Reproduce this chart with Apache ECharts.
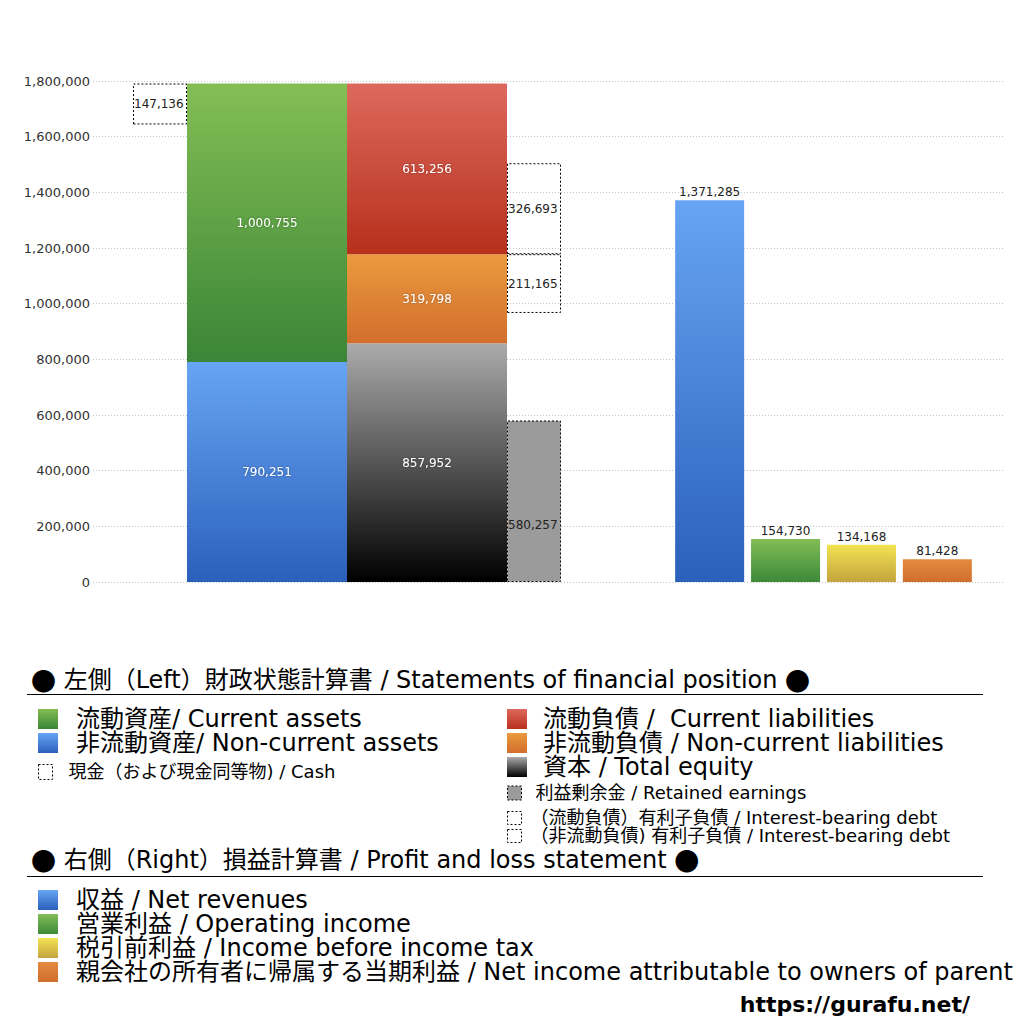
<!DOCTYPE html>
<html><head><meta charset="utf-8">
<script src="https://cdn.jsdelivr.net/npm/echarts@6/dist/echarts.min.js"></script>
<style>html,body{margin:0;padding:0;background:#fff}#c{width:1024px;height:1024px}</style>
</head><body><div id="c"></div>
<script>
// ---- data ----
const yMin = 0, yMax = 1800000, yInterval = 200000;
const assetNames = ['非流動資産/ Non-current assets', '流動資産/ Current assets'];
const assetValues = [790251, 1000755];
const cashNames = ['現金（および現金同等物) / Cash'];
const cashValues = [147136];
const liabNames = ['資本 / Total equity', '非流動負債 / Non-current liabilities', '流動負債 /  Current liabilities'];
const liabValues = [857952, 319798, 613256];
const debtNames = ['利益剰余金 / Retained earnings', '（非流動負債) 有利子負債 / Interest-bearing debt', '（流動負債）有利子負債 / Interest-bearing debt'];
const debtValues = [580257, 211165, 326693];
const plNames = ['収益 / Net revenues', '営業利益 / Operating income', '税引前利益 / Income before income tax', '親会社の所有者に帰属する当期利益 / Net income attributable to owners of parent'];
const plValues = [1371285, 154730, 134168, 81428];
const heading1 = ['左側（Left）財政状態計算書 / Statements of financial position'];
const heading2 = ['右側（Right）損益計算書 / Profit and loss statement'];
const siteUrl = 'https://gurafu.net/';

// ---- styles ----
const FONT = '"DejaVu Sans", "Noto Sans CJK JP", sans-serif';
const fmt = v => Number(v).toLocaleString('en-US');
const grad = (a, b) => ({type:'linear', x:0, y:0, x2:0, y2:1, colorStops:[{offset:0, color:a},{offset:1, color:b}]});
const cBlue = grad('#67a4f3', '#2b60bb');
const cGreen = grad('#84be55', '#3a8537');
const cRed = grad('#dd695d', '#b7301c');
const cOrange = grad('#ea9a3e', '#d26e2d');
const cBlack = grad('#ababab', '#000000');
const cGreen2 = grad('#82bd56', '#3c8939');
const cYellow = grad('#f3e352', '#c4a43e');
const cOrange2 = grad('#e48b3e', '#cf6e2e');
const dashBox = {color:'rgba(255,255,255,0)', borderColor:'#000', borderWidth:1, borderType:[2,2]};
const whiteLabel = {show:true, position:'inside', color:'#fff', fontSize:12, fontFamily:FONT, formatter:p=>fmt(p.value), textShadowColor:'rgba(0,0,0,0.35)', textShadowBlur:2};
const darkLeftLabel = {show:true, position:'insideLeft', distance:1, color:'#222', fontSize:12, fontFamily:FONT, formatter:p=>fmt(p.value)};

const assetsTotal = assetValues[0] + assetValues[1];
const cashOffset = assetsTotal - cashValues[0];
const debtGap = liabValues[0] + liabValues[1] - debtValues[1] - debtValues[0];

const L = {xAxisIndex:1, yAxisIndex:1, type:'bar', barGap:0};
const series = [
  Object.assign({}, L, {name:'_cashOffset', stack:'cash', barWidth:54, silent:true, itemStyle:{color:'rgba(0,0,0,0)'}, data:[cashOffset]}),
  Object.assign({}, L, {name:cashNames[0], stack:'cash', barWidth:54, itemStyle:dashBox, label:darkLeftLabel, data:[cashValues[0]]}),
  Object.assign({}, L, {name:assetNames[0], stack:'assets', barWidth:160, itemStyle:{color:cBlue}, label:whiteLabel, data:[assetValues[0]]}),
  Object.assign({}, L, {name:assetNames[1], stack:'assets', barWidth:160, itemStyle:{color:cGreen}, label:whiteLabel, data:[assetValues[1]]}),
  Object.assign({}, L, {name:liabNames[0], stack:'liab', barWidth:160, itemStyle:{color:cBlack}, label:whiteLabel, data:[liabValues[0]]}),
  Object.assign({}, L, {name:liabNames[1], stack:'liab', barWidth:160, itemStyle:{color:cOrange}, label:whiteLabel, data:[liabValues[1]]}),
  Object.assign({}, L, {name:liabNames[2], stack:'liab', barWidth:160, itemStyle:{color:cRed}, label:whiteLabel, data:[liabValues[2]]}),
  Object.assign({}, L, {name:debtNames[0], stack:'debt', barWidth:54, itemStyle:{color:'#9b9b9b', borderColor:'#000', borderWidth:1, borderType:[2,2]}, label:Object.assign({}, darkLeftLabel, {offset:[0,24]}), data:[debtValues[0]]}),
  Object.assign({}, L, {name:'_debtGap', stack:'debt', barWidth:54, silent:true, itemStyle:{color:'rgba(0,0,0,0)'}, data:[debtGap]}),
  Object.assign({}, L, {name:debtNames[1], stack:'debt', barWidth:54, itemStyle:dashBox, label:darkLeftLabel, data:[debtValues[1]]}),
  Object.assign({}, L, {name:debtNames[2], stack:'debt', barWidth:54, itemStyle:dashBox, label:darkLeftLabel, data:[debtValues[2]]})
];
const plColors = [cBlue, cGreen2, cYellow, cOrange2];
plNames.forEach((n, i) => series.push({
  name:n, type:'bar', xAxisIndex:2, yAxisIndex:2, barWidth:69, barGap:'10%',
  itemStyle:{color:plColors[i]},
  label:{show:true, position:'top', distance:2, color:'#222', fontSize:12, fontFamily:FONT, formatter:p=>fmt(p.value)},
  data:[plValues[i]]
}));

const hiddenY = {type:'value', min:yMin, max:yMax, interval:yInterval, show:false};
const legendBase = {orient:'vertical', icon:'rect', selectedMode:false, padding:0};
const bigText = (pad) => ({fontSize:24, padding:[0,0,0,pad], fontFamily:FONT, color:'#000'});
const smallText = (pad) => ({fontSize:18, padding:[0,0,0,pad], fontFamily:FONT, color:'#000'});
const dashLegendStyle = {borderColor:'#000', borderWidth:1, borderType:[2,2]};
const headStyle = (t) => ({text:'{c|●} ' + t + ' {c|●}', font:'24px ' + FONT, fill:'#000', verticalAlign:'middle',
  rich:{c:{fontFamily:'"Noto Sans CJK JP"', fontSize:25, fill:'#000'}}});

const option = {
  animation:false,
  backgroundColor:'#fff',
  grid:[
    {left:93, right:19, top:81, bottom:442},
    {left:93, width:508, top:81, bottom:442},
    {left:642, width:363, top:81, bottom:442}
  ],
  xAxis:[
    {gridIndex:0, type:'value', min:0, max:1, show:false},
    {gridIndex:1, type:'category', data:[''], show:false},
    {gridIndex:2, type:'category', data:[''], show:false}
  ],
  yAxis:[
    {gridIndex:0, type:'value', min:yMin, max:yMax, interval:yInterval,
     axisLine:{show:false}, axisTick:{show:false},
     splitLine:{lineStyle:{color:'#c4c4c4', type:[1,2], width:1}},
     axisLabel:{margin:3, color:'#333', fontSize:13, fontFamily:FONT, formatter:v=>fmt(v)}},
    Object.assign({gridIndex:1}, hiddenY),
    Object.assign({gridIndex:2}, hiddenY)
  ],
  legend:[
    Object.assign({}, legendBase, {data:[assetNames[1], assetNames[0]], left:38, top:707, itemWidth:20, itemHeight:20, itemGap:0, itemStyle:{borderWidth:0}, textStyle:bigText(13)}),
    Object.assign({}, legendBase, {data:cashNames, left:38, top:763, itemWidth:14, itemHeight:15, itemGap:0, itemStyle:dashLegendStyle, textStyle:smallText(11)}),
    Object.assign({}, legendBase, {data:[liabNames[2], liabNames[1], liabNames[0]], left:507, top:707, itemWidth:20, itemHeight:20, itemGap:0, itemStyle:{borderWidth:0}, textStyle:bigText(11)}),
    Object.assign({}, legendBase, {data:[debtNames[0]], left:507, top:784, itemWidth:14, itemHeight:14, itemGap:0, itemStyle:dashLegendStyle, textStyle:smallText(9)}),
    Object.assign({}, legendBase, {data:[debtNames[2], debtNames[1]], left:507, top:809, itemWidth:14, itemHeight:13, itemGap:0, itemStyle:dashLegendStyle, textStyle:smallText(4)}),
    Object.assign({}, legendBase, {data:plNames, left:38, top:888, itemWidth:20, itemHeight:20, itemGap:0, itemStyle:{borderWidth:0}, textStyle:bigText(13)})
  ],
  graphic:[
    {type:'text', x:31, y:680, style:headStyle(heading1[0])},
    {type:'line', shape:{x1:27, y1:694.5, x2:983, y2:694.5}, style:{stroke:'#000', lineWidth:1}},
    {type:'text', x:31, y:860, style:headStyle(heading2[0])},
    {type:'line', shape:{x1:27, y1:876.5, x2:983, y2:876.5}, style:{stroke:'#000', lineWidth:1}},
    {type:'text', x:970, y:1004, style:{text:siteUrl, font:'bold 22px "DejaVu Sans", sans-serif', fill:'#000', textAlign:'right', verticalAlign:'middle'}}
  ],
  series:series
};
const chart = echarts.init(document.getElementById('c'), null, {renderer:'svg'});
chart.setOption(option);
</script>
</body></html>
